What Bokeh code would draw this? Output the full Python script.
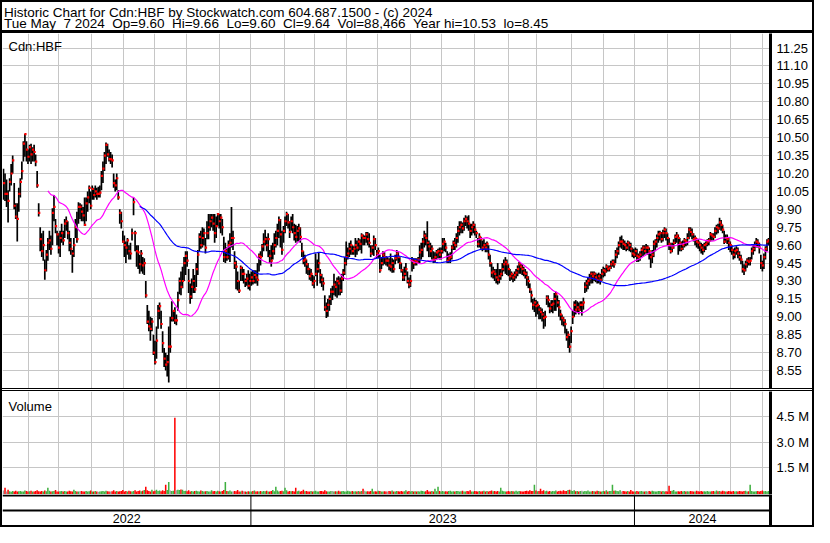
import numpy as np
import pandas as pd
from bokeh.plotting import figure
from bokeh.models import (Range1d, FixedTicker, Label, Span, Div, ColumnDataSource,
                          PrintfTickFormatter)
from bokeh.layouts import column, row
from bokeh.transform import dodge
from bokeh.core.properties import value
from bokeh.embed import file_html
from bokeh.resources import INLINE

FONT = "Liberation Sans"

# ---------------- data ----------------
title_line1 = "Historic Chart for Cdn:HBF by Stockwatch.com 604.687.1500 - (c) 2024"
title_line2 = ("Tue May \u00a07 2024 \u00a0Op=9.60 \u00a0Hi=9.66 \u00a0Lo=9.60 \u00a0Cl=9.64 "
               "\u00a0Vol=88,466 \u00a0Year hi=10.53 \u00a0lo=8.45")
symbol = "Cdn:HBF"

close = [
    10.12, 10.03, 10.03, 9.97, 10.13, 10.20, 10.31, 9.93, 9.84, 9.82,
    10.03, 10.13, 10.22, 10.45, 10.53, 10.40, 10.34, 10.42, 10.36, 10.40,
    10.38, 10.30, 10.10, 9.87, 9.65, 9.55, 9.60, 9.39, 9.52, 9.62,
    9.64, 9.57, 9.87, 9.92, 9.76, 9.69, 9.58, 9.66, 9.70, 9.64,
    9.78, 9.80, 9.70, 9.62, 9.57, 9.53, 9.60, 9.75, 9.65, 9.92,
    9.92, 9.88, 9.85, 9.77, 9.95, 10.00, 10.08, 9.93, 10.07, 10.02,
    10.05, 10.03, 10.03, 10.04, 10.18, 10.24, 10.35, 10.44, 10.36, 10.32,
    10.32, 10.31, 10.12, 10.10, 10.16, 10.00, 9.87, 9.80, 9.63, 9.60,
    9.58, 9.64, 9.55, 9.53, 9.70, 9.96, 9.70, 9.55, 9.54, 9.44,
    9.53, 9.43, 9.45, 9.18, 8.96, 8.92, 8.90, 8.96, 8.70, 8.62,
    8.80, 9.05, 9.09, 8.94, 8.78, 8.65, 8.60, 8.62, 8.75, 8.75,
    8.99, 9.05, 8.97, 8.97, 9.14, 9.30, 9.25, 9.30, 9.45, 9.51,
    9.47, 9.30, 9.17, 9.25, 9.30, 9.23, 9.40, 9.52, 9.67, 9.60,
    9.66, 9.70, 9.58, 9.70, 9.75, 9.80, 9.83, 9.78, 9.70, 9.76,
    9.86, 9.80, 9.83, 9.75, 9.50, 9.55, 9.50, 9.60, 9.62, 9.66,
    9.66, 9.45, 9.42, 9.30, 9.22, 9.41, 9.36, 9.36, 9.30, 9.32,
    9.26, 9.30, 9.33, 9.30, 9.35, 9.33, 9.31, 9.51, 9.50, 9.59,
    9.63, 9.65, 9.60, 9.65, 9.51, 9.47, 9.55, 9.60, 9.66, 9.72,
    9.81, 9.69, 9.56, 9.72, 9.80, 9.86, 9.79, 9.71, 9.80, 9.75,
    9.70, 9.67, 9.72, 9.74, 9.67, 9.55, 9.47, 9.48, 9.44, 9.40,
    9.34, 9.36, 9.28, 9.30, 9.36, 9.40, 9.45, 9.35, 9.31, 9.28,
    9.08, 9.05, 9.10, 9.15, 9.21, 9.21, 9.27, 9.25, 9.30, 9.28,
    9.22, 9.32, 9.37, 9.45, 9.50, 9.53, 9.57, 9.60, 9.55, 9.57,
    9.60, 9.58, 9.63, 9.61, 9.68, 9.66, 9.66, 9.69, 9.65, 9.62,
    9.53, 9.58, 9.65, 9.60, 9.53, 9.55, 9.39, 9.45, 9.52, 9.50,
    9.47, 9.47, 9.43, 9.42, 9.45, 9.40, 9.49, 9.53, 9.50, 9.45,
    9.39, 9.33, 9.36, 9.40, 9.30, 9.27, 9.30, 9.47, 9.45, 9.47,
    9.46, 9.48, 9.54, 9.56, 9.63, 9.68, 9.66, 9.62, 9.59, 9.55,
    9.57, 9.48, 9.50, 9.54, 9.55, 9.52, 9.55, 9.61, 9.63, 9.58,
    9.47, 9.49, 9.50, 9.58, 9.62, 9.60, 9.66, 9.72, 9.75, 9.77,
    9.74, 9.80, 9.82, 9.80, 9.78, 9.72, 9.75, 9.77, 9.73, 9.70,
    9.61, 9.67, 9.65, 9.58, 9.60, 9.58, 9.61, 9.52, 9.45, 9.37,
    9.38, 9.36, 9.33, 9.31, 9.34, 9.36, 9.40, 9.44, 9.46, 9.44,
    9.40, 9.34, 9.36, 9.33, 9.35, 9.37, 9.40, 9.44, 9.42, 9.40,
    9.37, 9.36, 9.33, 9.30, 9.23, 9.18, 9.10, 9.12, 9.09, 9.10,
    9.06, 9.04, 9.02, 8.99, 9.00, 9.16, 9.14, 9.07, 9.10, 9.11,
    9.15, 9.19, 9.12, 9.08, 9.02, 8.99, 8.97, 8.94, 8.83, 8.85,
    8.75, 8.88, 9.00, 9.10, 9.06, 9.08, 9.06, 9.10, 9.10, 9.12,
    9.25, 9.28, 9.30, 9.32, 9.36, 9.34, 9.36, 9.33, 9.31, 9.34,
    9.31, 9.36, 9.39, 9.38, 9.42, 9.40, 9.41, 9.44, 9.46, 9.44,
    9.52, 9.55, 9.60, 9.63, 9.63, 9.61, 9.60, 9.58, 9.62, 9.60,
    9.57, 9.53, 9.52, 9.55, 9.51, 9.50, 9.52, 9.56, 9.58, 9.55,
    9.58, 9.58, 9.55, 9.50, 9.52, 9.61, 9.63, 9.66, 9.69, 9.70,
    9.65, 9.70, 9.73, 9.70, 9.66, 9.61, 9.55, 9.58, 9.62, 9.67,
    9.68, 9.66, 9.62, 9.57, 9.60, 9.64, 9.63, 9.66, 9.73, 9.71,
    9.69, 9.65, 9.66, 9.63, 9.62, 9.60, 9.58, 9.56, 9.60, 9.61,
    9.63, 9.64, 9.69, 9.68, 9.67, 9.72, 9.75, 9.74, 9.79, 9.77,
    9.73, 9.63, 9.66, 9.65, 9.62, 9.60, 9.56, 9.52, 9.55, 9.56,
    9.53, 9.50, 9.48, 9.40, 9.39, 9.44, 9.47, 9.46, 9.47, 9.55,
    9.57, 9.60, 9.63, 9.62, 9.58, 9.45, 9.43, 9.50, 9.57, 9.63, 9.64,
]

high = [
    10.24, 10.20, 10.15, 10.06, 10.16, 10.28, 10.35, 10.12, 9.95, 9.95,
    10.08, 10.16, 10.30, 10.47, 10.53, 10.47, 10.40, 10.44, 10.45, 10.42,
    10.44, 10.36, 10.22, 9.95, 9.75, 9.70, 9.72, 9.48, 9.56, 9.66,
    9.72, 9.68, 9.91, 10.02, 9.82, 9.72, 9.70, 9.72, 9.78, 9.72,
    9.82, 9.84, 9.80, 9.72, 9.66, 9.56, 9.66, 9.82, 9.88, 9.96,
    9.95, 9.94, 9.92, 10.00, 10.00, 10.05, 10.10, 10.05, 10.10, 10.08,
    10.10, 10.08, 10.09, 10.10, 10.22, 10.30, 10.38, 10.46, 10.45, 10.40,
    10.38, 10.36, 10.20, 10.15, 10.20, 10.06, 9.90, 9.88, 9.72, 9.68,
    9.63, 9.66, 9.60, 9.62, 9.74, 10.00, 9.72, 9.60, 9.60, 9.52,
    9.56, 9.50, 9.49, 9.30, 9.10, 9.05, 9.00, 8.99, 8.85, 8.80,
    8.92, 9.10, 9.12, 9.05, 8.88, 8.74, 8.70, 8.68, 8.92, 9.00,
    9.13, 9.05, 9.08, 9.02, 9.21, 9.33, 9.38, 9.42, 9.50, 9.55,
    9.55, 9.40, 9.28, 9.32, 9.40, 9.35, 9.45, 9.56, 9.70, 9.72,
    9.75, 9.74, 9.66, 9.80, 9.86, 9.86, 9.86, 9.86, 9.86, 9.84,
    9.87, 9.86, 9.86, 9.82, 9.67, 9.62, 9.58, 9.64, 9.70, 9.92,
    9.72, 9.55, 9.47, 9.38, 9.30, 9.43, 9.42, 9.40, 9.32, 9.36,
    9.39, 9.36, 9.38, 9.39, 9.39, 9.39, 9.45, 9.53, 9.55, 9.61,
    9.70, 9.73, 9.67, 9.70, 9.56, 9.60, 9.62, 9.70, 9.72, 9.78,
    9.84, 9.82, 9.72, 9.76, 9.84, 9.88, 9.86, 9.80, 9.84, 9.86,
    9.78, 9.77, 9.76, 9.78, 9.75, 9.62, 9.55, 9.52, 9.48, 9.45,
    9.41, 9.40, 9.35, 9.34, 9.53, 9.48, 9.54, 9.40, 9.36, 9.33,
    9.18, 9.12, 9.15, 9.18, 9.24, 9.26, 9.36, 9.30, 9.33, 9.34,
    9.33, 9.36, 9.40, 9.50, 9.63, 9.58, 9.62, 9.64, 9.60, 9.59,
    9.66, 9.64, 9.66, 9.65, 9.70, 9.69, 9.68, 9.71, 9.71, 9.70,
    9.60, 9.60, 9.68, 9.66, 9.56, 9.58, 9.52, 9.50, 9.55, 9.54,
    9.51, 9.50, 9.49, 9.53, 9.49, 9.48, 9.52, 9.56, 9.54, 9.50,
    9.45, 9.40, 9.42, 9.45, 9.38, 9.33, 9.35, 9.50, 9.49, 9.49,
    9.49, 9.50, 9.60, 9.62, 9.66, 9.72, 9.70, 9.80, 9.64, 9.62,
    9.60, 9.55, 9.54, 9.56, 9.57, 9.58, 9.58, 9.66, 9.66, 9.62,
    9.55, 9.53, 9.54, 9.60, 9.64, 9.66, 9.70, 9.76, 9.80, 9.80,
    9.79, 9.83, 9.85, 9.84, 9.85, 9.78, 9.78, 9.80, 9.78, 9.72,
    9.66, 9.70, 9.67, 9.64, 9.65, 9.62, 9.63, 9.60, 9.52, 9.45,
    9.42, 9.40, 9.40, 9.45, 9.40, 9.40, 9.45, 9.48, 9.50, 9.48,
    9.44, 9.40, 9.38, 9.36, 9.38, 9.40, 9.43, 9.46, 9.45, 9.44,
    9.42, 9.40, 9.38, 9.34, 9.28, 9.22, 9.15, 9.16, 9.14, 9.13,
    9.10, 9.08, 9.07, 9.04, 9.05, 9.18, 9.18, 9.12, 9.14, 9.14,
    9.20, 9.21, 9.18, 9.14, 9.06, 9.02, 9.00, 8.98, 8.90, 8.88,
    8.84, 8.92, 9.05, 9.13, 9.14, 9.13, 9.12, 9.13, 9.13, 9.16,
    9.29, 9.31, 9.33, 9.36, 9.38, 9.38, 9.38, 9.37, 9.36, 9.37,
    9.36, 9.40, 9.42, 9.41, 9.44, 9.43, 9.43, 9.47, 9.48, 9.48,
    9.56, 9.58, 9.63, 9.67, 9.68, 9.65, 9.64, 9.62, 9.64, 9.63,
    9.62, 9.58, 9.57, 9.58, 9.57, 9.53, 9.55, 9.58, 9.60, 9.60,
    9.61, 9.60, 9.58, 9.53, 9.56, 9.64, 9.65, 9.69, 9.72, 9.72,
    9.71, 9.73, 9.75, 9.74, 9.70, 9.66, 9.62, 9.62, 9.65, 9.69,
    9.71, 9.69, 9.66, 9.63, 9.64, 9.66, 9.65, 9.70, 9.75, 9.75,
    9.74, 9.70, 9.68, 9.66, 9.65, 9.63, 9.62, 9.61, 9.62, 9.63,
    9.65, 9.66, 9.71, 9.70, 9.70, 9.75, 9.77, 9.78, 9.83, 9.81,
    9.77, 9.72, 9.69, 9.69, 9.66, 9.63, 9.60, 9.57, 9.58, 9.59,
    9.58, 9.55, 9.52, 9.47, 9.44, 9.47, 9.49, 9.50, 9.50, 9.58,
    9.60, 9.63, 9.66, 9.65, 9.62, 9.52, 9.47, 9.53, 9.59, 9.65, 9.66,
]

low = [
    9.98, 9.97, 9.92, 9.79, 10.05, 10.10, 10.20, 9.90, 9.82, 9.63,
    9.88, 10.00, 10.15, 10.30, 10.34, 10.30, 10.28, 10.30, 10.28, 10.30,
    10.30, 10.26, 10.08, 9.84, 9.55, 9.50, 9.47, 9.31, 9.38, 9.47,
    9.56, 9.52, 9.60, 9.80, 9.70, 9.60, 9.53, 9.50, 9.62, 9.60,
    9.66, 9.72, 9.65, 9.55, 9.52, 9.37, 9.50, 9.66, 9.62, 9.78,
    9.82, 9.80, 9.80, 9.76, 9.80, 9.88, 9.95, 9.90, 9.98, 9.98,
    10.00, 9.98, 10.00, 10.00, 10.06, 10.12, 10.22, 10.28, 10.34, 10.30,
    10.28, 10.25, 10.08, 10.05, 10.06, 9.98, 9.78, 9.74, 9.62, 9.50,
    9.45, 9.52, 9.48, 9.48, 9.64, 9.85, 9.55, 9.42, 9.40, 9.36,
    9.38, 9.36, 9.35, 9.16, 8.94, 8.88, 8.80, 8.88, 8.68, 8.60,
    8.65, 8.90, 8.98, 8.90, 8.70, 8.58, 8.55, 8.50, 8.45, 8.70,
    8.96, 8.96, 8.94, 8.93, 9.05, 9.19, 9.18, 9.24, 9.30, 9.35,
    9.42, 9.20, 9.11, 9.15, 9.20, 9.20, 9.25, 9.35, 9.55, 9.57,
    9.58, 9.60, 9.53, 9.65, 9.65, 9.72, 9.75, 9.72, 9.62, 9.66,
    9.76, 9.74, 9.70, 9.68, 9.46, 9.45, 9.47, 9.48, 9.46, 9.58,
    9.56, 9.40, 9.23, 9.22, 9.20, 9.30, 9.30, 9.28, 9.25, 9.26,
    9.23, 9.22, 9.26, 9.27, 9.28, 9.28, 9.26, 9.38, 9.43, 9.50,
    9.55, 9.60, 9.55, 9.50, 9.45, 9.42, 9.48, 9.52, 9.58, 9.60,
    9.66, 9.58, 9.52, 9.62, 9.70, 9.76, 9.74, 9.66, 9.72, 9.70,
    9.64, 9.62, 9.63, 9.63, 9.62, 9.50, 9.44, 9.42, 9.36, 9.35,
    9.31, 9.30, 9.26, 9.24, 9.34, 9.26, 9.37, 9.28, 9.25, 9.22,
    9.05, 8.99, 9.00, 9.05, 9.10, 9.14, 9.18, 9.17, 9.16, 9.18,
    9.18, 9.20, 9.30, 9.35, 9.43, 9.48, 9.50, 9.52, 9.52, 9.52,
    9.50, 9.52, 9.55, 9.56, 9.53, 9.60, 9.60, 9.62, 9.60, 9.58,
    9.50, 9.52, 9.51, 9.56, 9.49, 9.49, 9.37, 9.40, 9.43, 9.44,
    9.43, 9.42, 9.39, 9.38, 9.37, 9.37, 9.44, 9.47, 9.45, 9.40,
    9.37, 9.30, 9.30, 9.34, 9.28, 9.24, 9.25, 9.38, 9.40, 9.43,
    9.43, 9.45, 9.45, 9.48, 9.50, 9.58, 9.60, 9.55, 9.50, 9.50,
    9.48, 9.45, 9.45, 9.48, 9.49, 9.48, 9.48, 9.53, 9.55, 9.54,
    9.45, 9.45, 9.45, 9.48, 9.56, 9.56, 9.58, 9.62, 9.68, 9.70,
    9.70, 9.72, 9.76, 9.74, 9.72, 9.66, 9.68, 9.70, 9.68, 9.66,
    9.58, 9.58, 9.57, 9.55, 9.56, 9.54, 9.54, 9.48, 9.42, 9.33,
    9.32, 9.30, 9.28, 9.27, 9.28, 9.31, 9.34, 9.38, 9.36, 9.35,
    9.34, 9.30, 9.31, 9.29, 9.30, 9.32, 9.34, 9.36, 9.36, 9.35,
    9.34, 9.32, 9.26, 9.24, 9.20, 9.12, 9.06, 9.04, 9.00, 9.02,
    8.98, 8.98, 8.96, 8.90, 8.92, 9.10, 9.08, 9.03, 9.04, 9.03,
    9.05, 9.05, 9.08, 9.00, 8.97, 8.93, 8.92, 8.86, 8.80, 8.74,
    8.70, 8.78, 8.94, 9.00, 9.02, 9.04, 9.02, 9.05, 9.01, 9.06,
    9.20, 9.21, 9.23, 9.26, 9.28, 9.28, 9.30, 9.29, 9.28, 9.28,
    9.27, 9.30, 9.33, 9.34, 9.37, 9.38, 9.38, 9.40, 9.42, 9.41,
    9.45, 9.49, 9.52, 9.58, 9.57, 9.56, 9.56, 9.55, 9.56, 9.55,
    9.54, 9.50, 9.49, 9.50, 9.46, 9.46, 9.47, 9.50, 9.51, 9.52,
    9.53, 9.52, 9.48, 9.41, 9.45, 9.50, 9.55, 9.58, 9.62, 9.64,
    9.62, 9.63, 9.66, 9.64, 9.60, 9.56, 9.53, 9.54, 9.57, 9.61,
    9.62, 9.52, 9.55, 9.55, 9.56, 9.58, 9.59, 9.60, 9.65, 9.67,
    9.65, 9.63, 9.60, 9.58, 9.57, 9.55, 9.53, 9.52, 9.54, 9.56,
    9.59, 9.60, 9.63, 9.64, 9.64, 9.66, 9.69, 9.70, 9.73, 9.72,
    9.70, 9.61, 9.62, 9.61, 9.56, 9.54, 9.52, 9.48, 9.49, 9.52,
    9.49, 9.47, 9.44, 9.37, 9.35, 9.38, 9.41, 9.43, 9.43, 9.48,
    9.52, 9.55, 9.58, 9.58, 9.53, 9.40, 9.38, 9.40, 9.48, 9.55, 9.60,
]

# daily volume, thousands of shares
volume_k = [
    120, 290, 60, 170, 80, 50, 90, 70, 110, 60,
    80, 100, 60, 70, 120, 90, 60, 80, 110, 70,
    60, 90, 130, 80, 70, 100, 60, 120, 80, 290,
    110, 60, 80, 90, 150, 70, 60, 80, 100, 60,
    90, 70, 60, 110, 80, 60, 170, 90, 70, 60,
    80, 100, 60, 70, 90, 60, 80, 120, 70, 60,
    90, 60, 50, 70, 80, 100, 60, 110, 80, 70,
    60, 80, 130, 70, 90, 60, 80, 100, 150, 70,
    90, 60, 110, 80, 70, 100, 140, 60, 90, 120,
    80, 110, 150, 350, 130, 90, 70, 160, 80, 110,
    170, 90, 120, 80, 140, 100, 460, 150, 630, 120,
    90, 110, 4440, 130, 170, 150, 180, 160, 90, 110,
    80, 130, 70, 100, 60, 90, 110, 80, 70, 120,
    90, 60, 80, 100, 70, 60, 130, 80, 90, 60,
    110, 80, 70, 90, 150, 630, 100, 80, 120, 70,
    60, 90, 80, 150, 70, 60, 110, 80, 60, 50,
    80, 60, 70, 90, 120, 60, 80, 70, 100, 60,
    90, 80, 110, 70, 60, 100, 150, 80, 350, 120,
    70, 90, 110, 80, 290, 130, 60, 100, 80, 90,
    60, 290, 80, 110, 70, 90, 160, 80, 100, 60,
    70, 90, 60, 80, 110, 70, 60, 100, 90, 60,
    130, 80, 70, 60, 90, 100, 60, 80, 70, 110,
    60, 80, 90, 70, 60, 110, 80, 60, 90, 70,
    80, 60, 100, 70, 90, 230, 110, 60, 80, 70,
    90, 230, 70, 80, 60, 110, 90, 70, 60, 80,
    70, 60, 90, 80, 120, 60, 70, 100, 80, 60,
    90, 70, 80, 130, 60, 100, 70, 90, 60, 80,
    60, 80, 70, 110, 90, 60, 80, 150, 70, 60,
    90, 70, 230, 80, 350, 100, 60, 90, 70, 80,
    60, 90, 110, 70, 80, 60, 100, 90, 70, 80,
    110, 70, 60, 90, 80, 130, 70, 60, 100, 80,
    70, 90, 60, 80, 110, 70, 90, 60, 100, 120,
    80, 100, 70, 90, 60, 290, 110, 80, 70, 60,
    90, 70, 100, 80, 60, 110, 70, 90, 80, 60,
    70, 90, 110, 80, 130, 100, 90, 460, 120, 80,
    100, 230, 90, 130, 80, 110, 70, 90, 60, 100,
    80, 120, 70, 90, 110, 80, 130, 100, 90, 150,
    170, 120, 90, 130, 80, 100, 70, 90, 110, 60,
    90, 80, 120, 70, 60, 100, 80, 70, 110, 90,
    70, 60, 90, 80, 130, 70, 100, 90, 460, 110,
    120, 90, 80, 140, 70, 100, 80, 60, 90, 70,
    150, 80, 60, 70, 90, 60, 80, 100, 70, 60,
    80, 70, 90, 60, 110, 80, 70, 60, 90, 100,
    70, 90, 60, 80, 70, 400, 90, 110, 150, 70,
    60, 80, 70, 90, 60, 100, 70, 80, 60, 90,
    80, 60, 70, 110, 80, 60, 90, 70, 80, 60,
    90, 70, 60, 80, 100, 70, 120, 80, 90, 70,
    110, 80, 70, 60, 90, 80, 70, 100, 60, 80,
    70, 90, 80, 60, 100, 110, 70, 80, 460, 90,
    70, 60, 80, 90, 70, 100, 120, 80, 90, 70, 88.466,
]

price_ticks = [8.55, 8.70, 8.85, 9.00, 9.15, 9.30, 9.45, 9.60, 9.75, 9.90,
               10.05, 10.20, 10.35, 10.50, 10.65, 10.80, 10.95, 11.10, 11.25]
volume_ticks = [1_500_000, 3_000_000, 4_500_000]
volume_tick_labels = ["1.5 M", "3.0 M", "4.5 M"]

month_labels = ["Jun", "Jul", "Aug", "Sep", "Oct", "Nov", "Dec",
                "Jan", "Feb", "Mar", "Apr", "May", "Jun", "Jul", "Aug", "Sep", "Oct", "Nov", "Dec",
                "Jan", "Feb", "Mar", "Apr", "May"]
month_pos = [16.1, 36.1, 57.3, 78.6, 98.6, 119.8, 141.1,
             161.7, 183.6, 203.0, 224.2, 244.2, 266.1, 286.1, 308.0, 329.9, 348.6, 371.1, 392.3,
             412.4, 434.3, 454.9, 474.9, 496.1]
years = ["2022", "2023", "2024"]
ma_fast_days, ma_slow_days = 30, 90

# ---------------- derived ----------------
n = len(close)
df = pd.DataFrame({"idx": np.arange(n), "close": close, "high": high, "low": low,
                   "vol": np.array(volume_k, dtype=float) * 1000.0})
df["ma_fast"] = df["close"].rolling(ma_fast_days).mean()
df["ma_slow"] = df["close"].rolling(ma_slow_days).mean()
chg = df["close"].diff().fillna(0.0)
df["vcolor"] = np.where(chg > 0, "#3fb040", np.where(chg < 0, "#ff0000", "#a0a0a0"))
src = ColumnDataSource(df)

# ---------------- layout constants ----------------
W_IN = 810
RIGHT = 42
H_TITLE, H_PRICE, H_VOL, H_YEARS = 28, 355, 103, 31
GRID = "#c6c6c6"

xr = Range1d(-0.65, n + 0.3)


def strip(w, h, color="black"):
    return Div(text="", width=w, height=h, margin=0,
               styles={"background-color": color})


def base_fig(height, y_range, right_axis=True):
    f = figure(width=W_IN, height=height, x_range=xr, y_range=y_range,
               x_axis_location=None, y_axis_location="right" if right_axis else None,
               toolbar_location=None, output_backend="svg",
               min_border_left=0, min_border_top=0, min_border_bottom=0,
               min_border_right=RIGHT)
    f.outline_line_color = None
    f.background_fill_color = "white"
    f.border_fill_color = "white"
    return f


def style_right_axis(f, ticks):
    ax = f.yaxis[0]
    ax.ticker = FixedTicker(ticks=ticks)
    ax.axis_line_color = "black"
    ax.axis_line_width = 3
    ax.major_tick_line_color = None
    ax.minor_tick_line_color = None
    ax.major_tick_out = 0
    ax.major_tick_in = 0
    ax.major_label_standoff = 6
    ax.major_label_text_font = FONT
    ax.major_label_text_font_size = "13px"
    ax.major_label_text_color = "black"


# title panel
ft = figure(width=W_IN, height=H_TITLE, x_range=Range1d(0, W_IN), y_range=Range1d(0, H_TITLE),
            x_axis_location=None, y_axis_location=None, toolbar_location=None,
            output_backend="svg", min_border=0)
ft.outline_line_color = None
ft.xgrid.visible = False
ft.ygrid.visible = False
for txt, yy in ((title_line1, 18.0), (title_line2, 7.5)):
    ft.add_layout(Label(x=1.5, y=yy, x_units="screen", y_units="screen", text=txt,
                        text_font=FONT, text_font_size="13.5px", text_color="black",
                        text_baseline="alphabetic"))

# price panel
pp = base_fig(H_PRICE, Range1d(8.40, 11.372))
style_right_axis(pp, price_ticks)
pp.yaxis[0].formatter = PrintfTickFormatter(format="%.2f")
pp.xgrid.ticker = FixedTicker(ticks=month_pos)
pp.ygrid.ticker = FixedTicker(ticks=price_ticks)
for g in (pp.xgrid, pp.ygrid):
    g.grid_line_color = GRID
    g.grid_line_width = 1
pp.segment(x0="idx", y0="low", x1="idx", y1="high", source=src,
           line_color="black", line_width=1.7)
pp.rect(x=dodge("idx", 0.35, range=xr), y="close", width=2.2, height=2.2,
        width_units="screen", height_units="screen", source=src,
        fill_color="#ff0000", line_color=None)
pp.line("idx", "ma_fast", source=src, line_color="#ff00ff", line_width=1.2)
pp.line("idx", "ma_slow", source=src, line_color="#0000ff", line_width=1.2)
pp.add_layout(Label(x=6, y=H_PRICE - 13, x_units="screen", y_units="screen", text=symbol,
                    text_font=FONT, text_font_size="13px", text_color="black",
                    text_baseline="alphabetic"))

# volume panel
vol_range = Range1d(-115_000, 6_000_000)
pv = base_fig(H_VOL, vol_range)
style_right_axis(pv, volume_ticks)
pv.yaxis[0].major_label_overrides = dict(zip(volume_ticks, volume_tick_labels))
pv.xgrid.ticker = FixedTicker(ticks=month_pos)
pv.ygrid.ticker = FixedTicker(ticks=volume_ticks)
for g in (pv.xgrid, pv.ygrid):
    g.grid_line_color = GRID
    g.grid_line_width = 1
pv.vbar(x="idx", top="vol", bottom=vol_range.start, width=1.0, source=src,
        fill_color="vcolor", line_color=None)
pv.add_layout(Label(x=6, y=H_VOL - 15, x_units="screen", y_units="screen", text="Volume",
                    text_font=FONT, text_font_size="13px", text_color="black",
                    text_baseline="alphabetic"))

# year rows
py = base_fig(H_YEARS, Range1d(0, H_YEARS))
style_right_axis(py, [])
py.xgrid.visible = False
py.ygrid.visible = False
py.add_layout(Span(location=H_YEARS - 1, dimension="width", line_color="black", line_width=2))
py.add_layout(Span(location=15, dimension="width", line_color="black", line_width=2))
year_breaks = [p for p, m in zip(month_pos, month_labels) if m == "Jan"]
for b in year_breaks:
    py.add_layout(Span(location=b, dimension="height", line_color="black", line_width=1))
bounds = [xr.start] + year_breaks + [xr.end]
centers = [(a + b) / 2 for a, b in zip(bounds[:-1], bounds[1:])]
ysrc = ColumnDataSource(dict(x=centers, y=[7.0] * len(years), t=years))
py.text(x="x", y="y", text="t", source=ysrc, text_align="center", text_baseline="middle",
        text_font=value(FONT), text_font_size="12.5px", text_color="black")

inner = column(ft, strip(W_IN, 3), pp, strip(W_IN, 1), strip(W_IN, 1, "white"), strip(W_IN, 1),
               pv, py, spacing=0)
inner_h = H_TITLE + 3 + H_PRICE + 3 + H_VOL + H_YEARS
mid = row(strip(2, inner_h), inner, strip(2, inner_h), spacing=0)
root = column(strip(W_IN + 4, 2), mid, strip(W_IN + 4, 2), spacing=0)

open("out.html", "w").write(file_html(root, INLINE))
